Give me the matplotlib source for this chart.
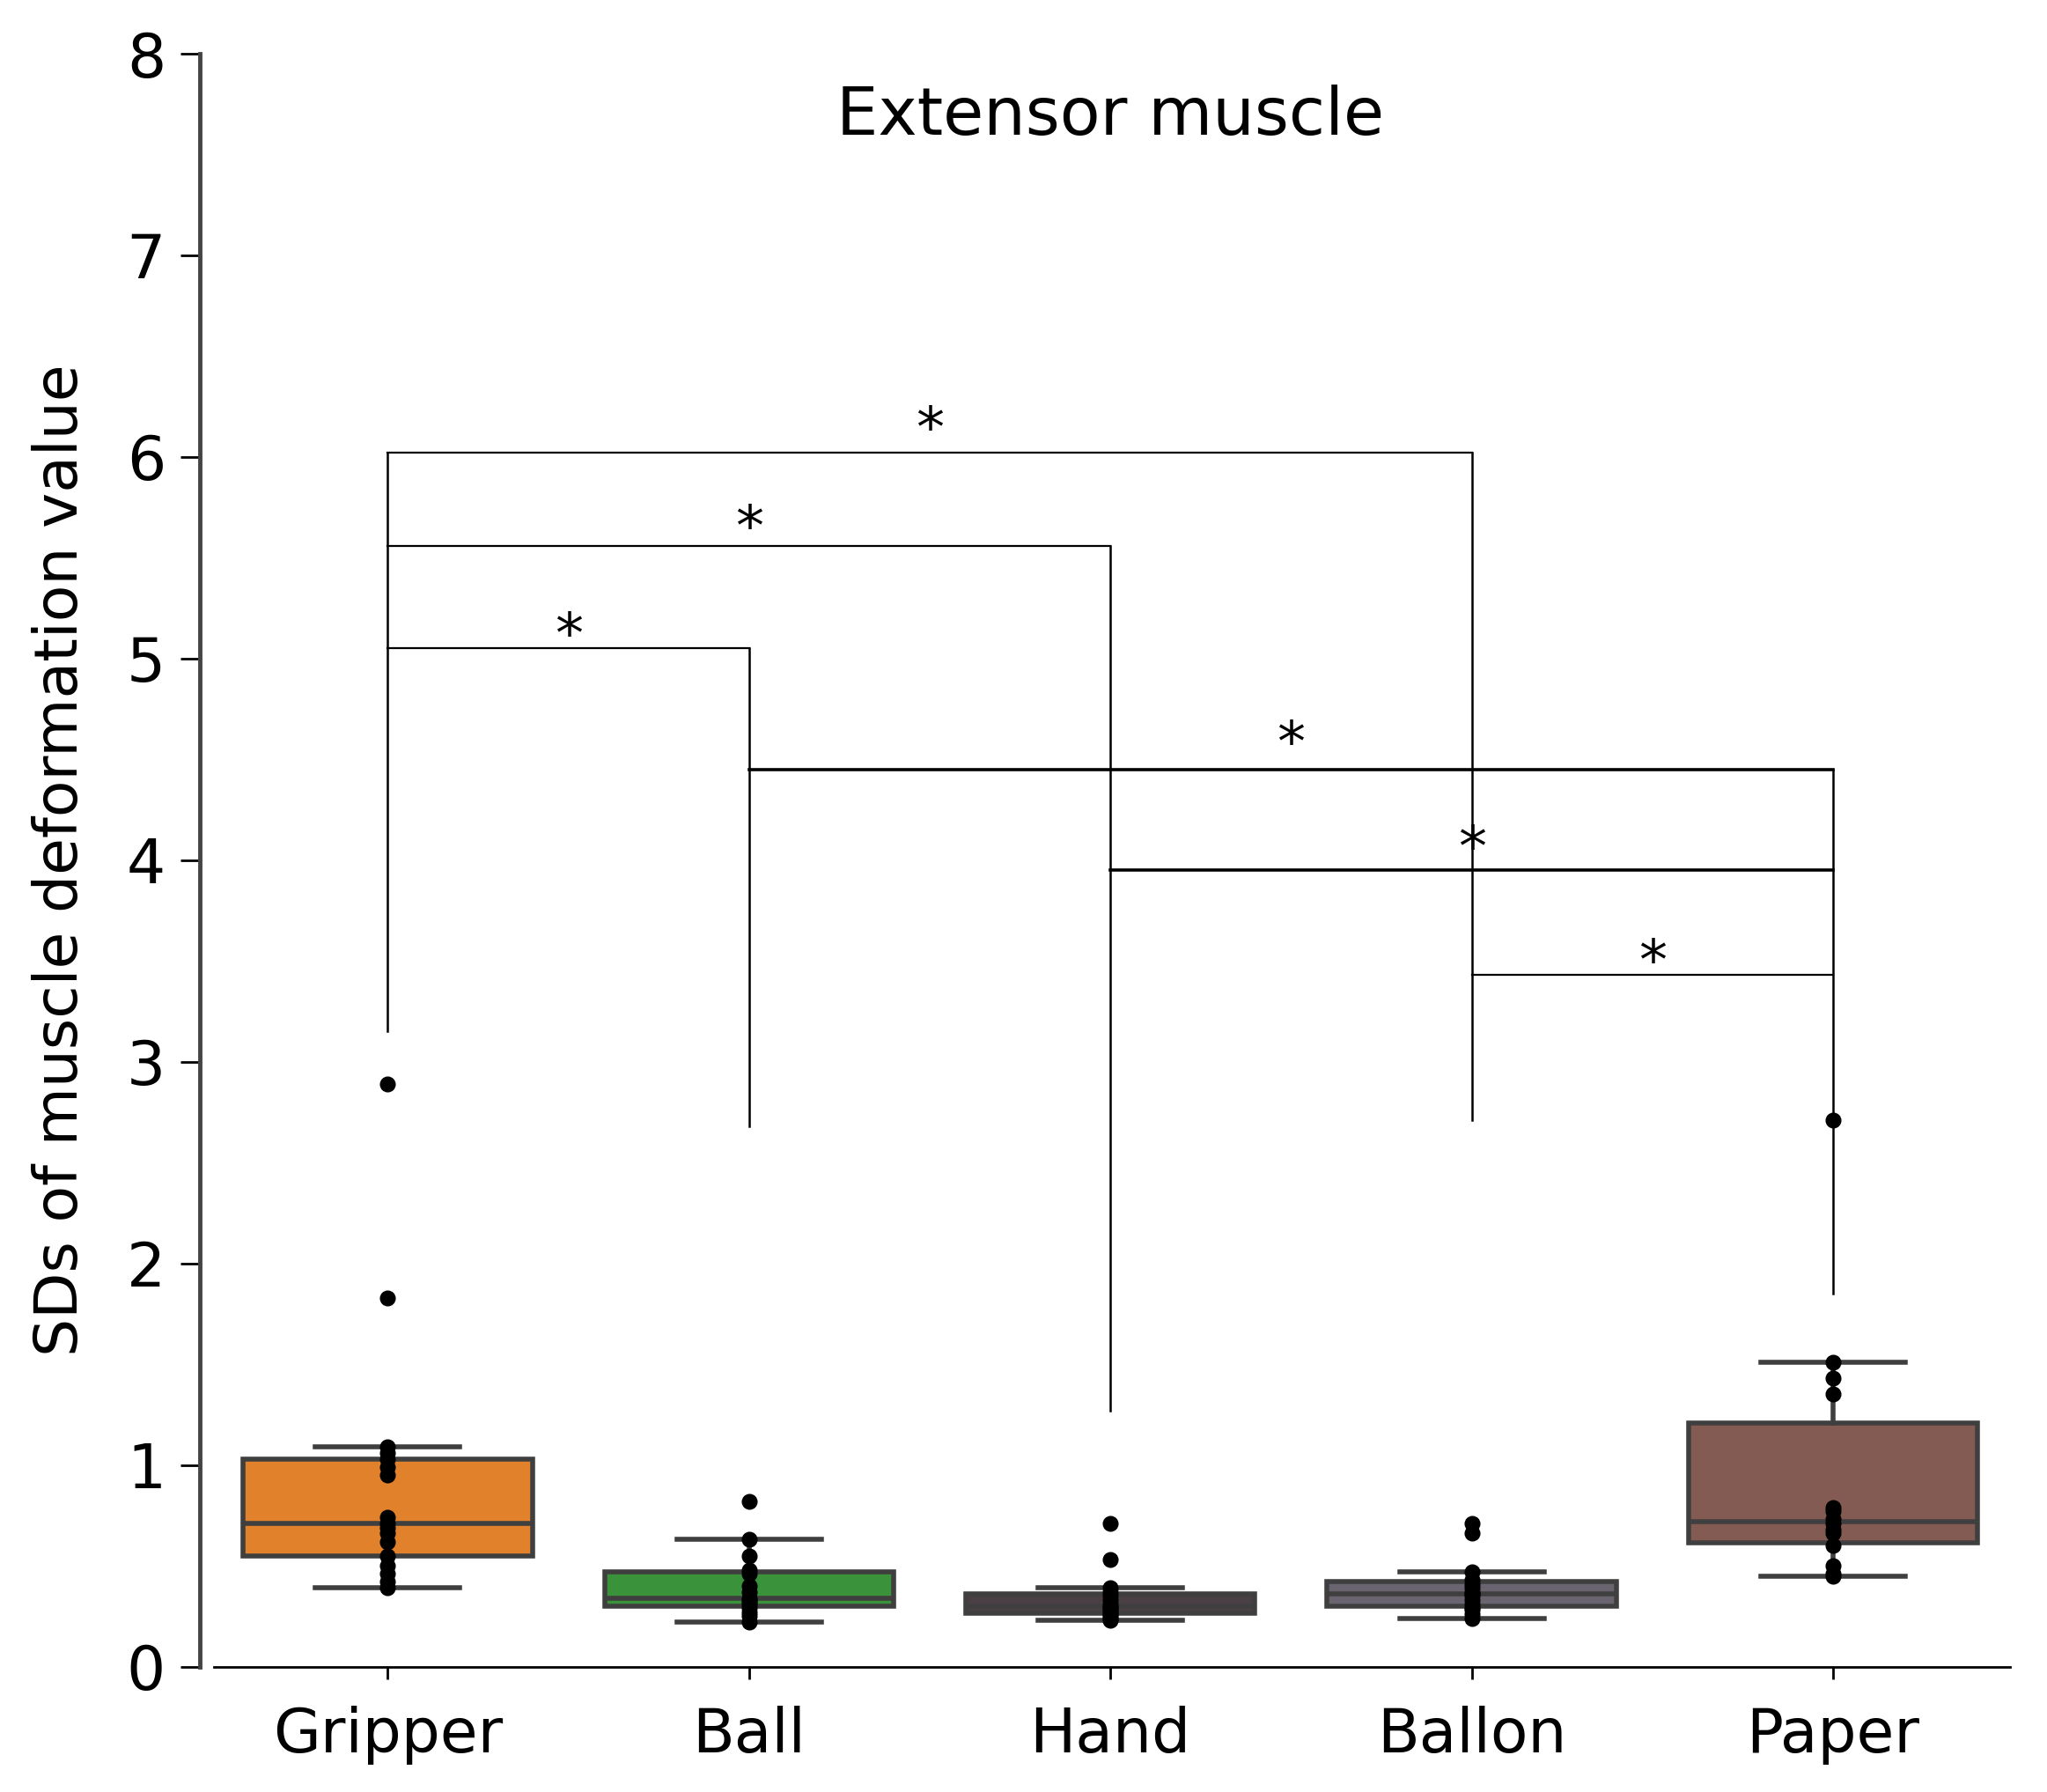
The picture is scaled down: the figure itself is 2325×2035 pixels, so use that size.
import numpy as np
import matplotlib
matplotlib.use("Agg")
import matplotlib.pyplot as plt

# 数据
categories = ["Gripper", "Ball", "Hand", "Ballon", "Paper"]
gripper = [0.39, 0.42, 0.46, 0.50, 0.55, 0.62, 0.66, 0.69, 0.71, 0.74,
           0.95, 0.99, 1.03, 1.06, 1.09, 1.83, 2.89]
ball = [0.22, 0.25, 0.27, 0.29, 0.31, 0.32, 0.33, 0.34, 0.37, 0.40,
        0.46, 0.48, 0.55, 0.63, 0.82]
hand = [0.23, 0.24, 0.25, 0.26, 0.27, 0.28, 0.29, 0.30, 0.31, 0.33,
        0.35, 0.37, 0.39, 0.53, 0.71]
ballon = [0.24, 0.26, 0.28, 0.29, 0.31, 0.33, 0.35, 0.36, 0.37, 0.39,
          0.41, 0.43, 0.47, 0.66, 0.71]
paper = [0.45, 0.46, 0.50, 0.60, 0.66, 0.68, 0.71, 0.73, 0.77, 0.79,
         1.35, 1.43, 1.51, 2.71]
box_colors = ["#e1812c", "#3a923a", "#4a3f44", "#6a6470", "#845b53"]

# 显著性标记: (左类别, 右类别, 高度)
brackets = [(0, 3, 6.02), (0, 2, 5.56), (0, 1, 5.05),
            (1, 4, 4.45), (2, 4, 3.95), (3, 4, 3.43)]
bracket_lw = [1.6, 1.6, 1.6, 2.6, 2.6, 1.6]
star_y = [6.18, 5.69, 5.16, 4.62, 4.10, 3.54]
# 每个类别竖线的底端
leg_bottom = [3.15, 2.68, 1.27, 2.71, 1.85]

data = [gripper, ball, hand, ballon, paper]
pos = np.arange(len(categories))

fig = plt.figure(figsize=(23.25, 20.35), dpi=100)
ax = fig.add_axes([0.0976, 0.070, 0.8844, 0.900])

edge = "#3f3f3f"
bp = ax.boxplot(data, positions=pos, widths=0.8, patch_artist=True,
                showfliers=False,
                boxprops=dict(edgecolor=edge, linewidth=4),
                whiskerprops=dict(color=edge, linewidth=4),
                capprops=dict(color=edge, linewidth=4),
                medianprops=dict(color=edge, linewidth=4))
for patch, c in zip(bp["boxes"], box_colors):
    patch.set_facecolor(c)

for i, d in enumerate(data):
    ax.plot(np.full(len(d), pos[i]), d, "o", color="black",
            markersize=12, zorder=5)

# 括号线
tops = [0.0] * len(categories)
for (a, b, h), lw, sy in zip(brackets, bracket_lw, star_y):
    ax.plot([pos[a], pos[b]], [h, h], color="black", lw=lw, zorder=6)
    ax.text((pos[a] + pos[b]) / 2, sy - 0.05, "*", ha="center", va="center",
            fontsize=46, zorder=7)
    tops[a] = max(tops[a], h)
    tops[b] = max(tops[b], h)
for i in range(len(categories)):
    ax.plot([pos[i], pos[i]], [leg_bottom[i], tops[i]], color="black",
            lw=1.8, zorder=6)

ax.set_xlim(-0.52, 4.49)
ax.set_ylim(0, 8)
ax.set_xticks(pos)
ax.set_xticklabels(categories, fontsize=50)
ax.set_yticks(range(0, 9))
ax.tick_params(axis="y", labelsize=50, length=16, width=2, pad=12)
ax.tick_params(axis="x", length=10, width=2, pad=22)
ax.set_ylabel("SDs of muscle deformation value", fontsize=49, labelpad=30)
ax.text(2.0, 7.69, "Extensor muscle", ha="center", va="center", fontsize=54)

ax.spines["top"].set_visible(False)
ax.spines["right"].set_visible(False)
ax.spines["left"].set_linewidth(3.5)
ax.spines["left"].set_color("#444444")
ax.spines["bottom"].set_linewidth(2)
ax.spines["bottom"].set_bounds(-0.48, 4.49)

fig.savefig("out.png", dpi=100)
